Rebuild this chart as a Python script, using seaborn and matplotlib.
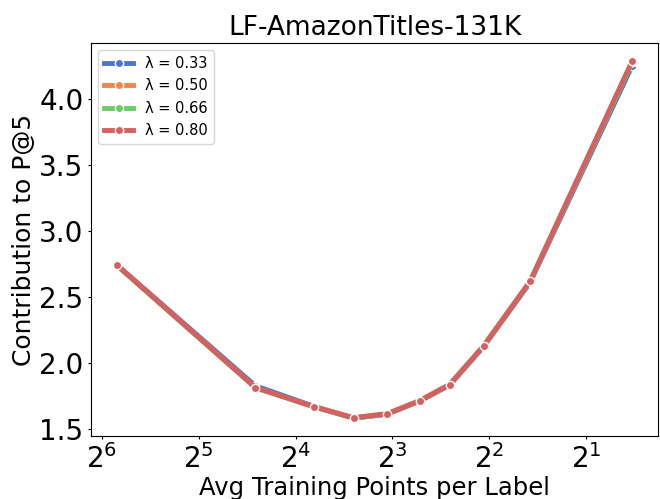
import matplotlib
matplotlib.use("Agg")
import matplotlib.pyplot as plt
import numpy as np
import pandas as pd
import seaborn as sns

# Average training points per label for each bin
avg_points = [57.4, 21.3, 14.0, 10.56, 8.30, 6.57, 5.31, 4.17, 2.99, 1.44]

# Contribution to P@5 for each lambda setting
lam_033 = [2.745, 1.830, 1.675, 1.585, 1.615, 1.715, 1.835, 2.125, 2.610, 4.250]
lam_050 = [2.742, 1.815, 1.672, 1.590, 1.620, 1.720, 1.842, 2.133, 2.620, 4.280]
lam_066 = [2.740, 1.815, 1.670, 1.585, 1.617, 1.718, 1.840, 2.130, 2.618, 4.275]
lam_080 = [2.742, 1.817, 1.671, 1.588, 1.619, 1.718, 1.840, 2.131, 2.620, 4.287]

labels = ["λ = 0.33", "λ = 0.50", "λ = 0.66", "λ = 0.80"]
series = [lam_033, lam_050, lam_066, lam_080]

frames = []
for lab, vals in zip(labels, series):
    frames.append(pd.DataFrame({"x": avg_points, "y": vals, "lam": lab}))
df = pd.concat(frames, ignore_index=True)

fig = plt.figure(figsize=(6.6, 4.99), dpi=100)
ax = fig.add_axes([0.138, 0.126, 0.859, 0.788])

sns.lineplot(data=df, x="x", y="y", hue="lam", palette="muted",
             marker="o", markersize=6, markeredgecolor="white",
             markeredgewidth=1, linewidth=3.5, ax=ax)

ax.set_xscale("log", base=2)
ax.invert_xaxis()

ax.set_title("LF-AmazonTitles-131K", fontsize=19)
ax.set_xlabel("Avg Training Points per Label", fontsize=17.5, labelpad=2)
ax.set_ylabel("Contribution to P@5", fontsize=18, labelpad=2)
ax.tick_params(axis="both", labelsize=20, length=2)

leg = ax.legend(loc="upper left", fontsize=10.5, title=None)

fig.savefig("out.png", dpi=100)
